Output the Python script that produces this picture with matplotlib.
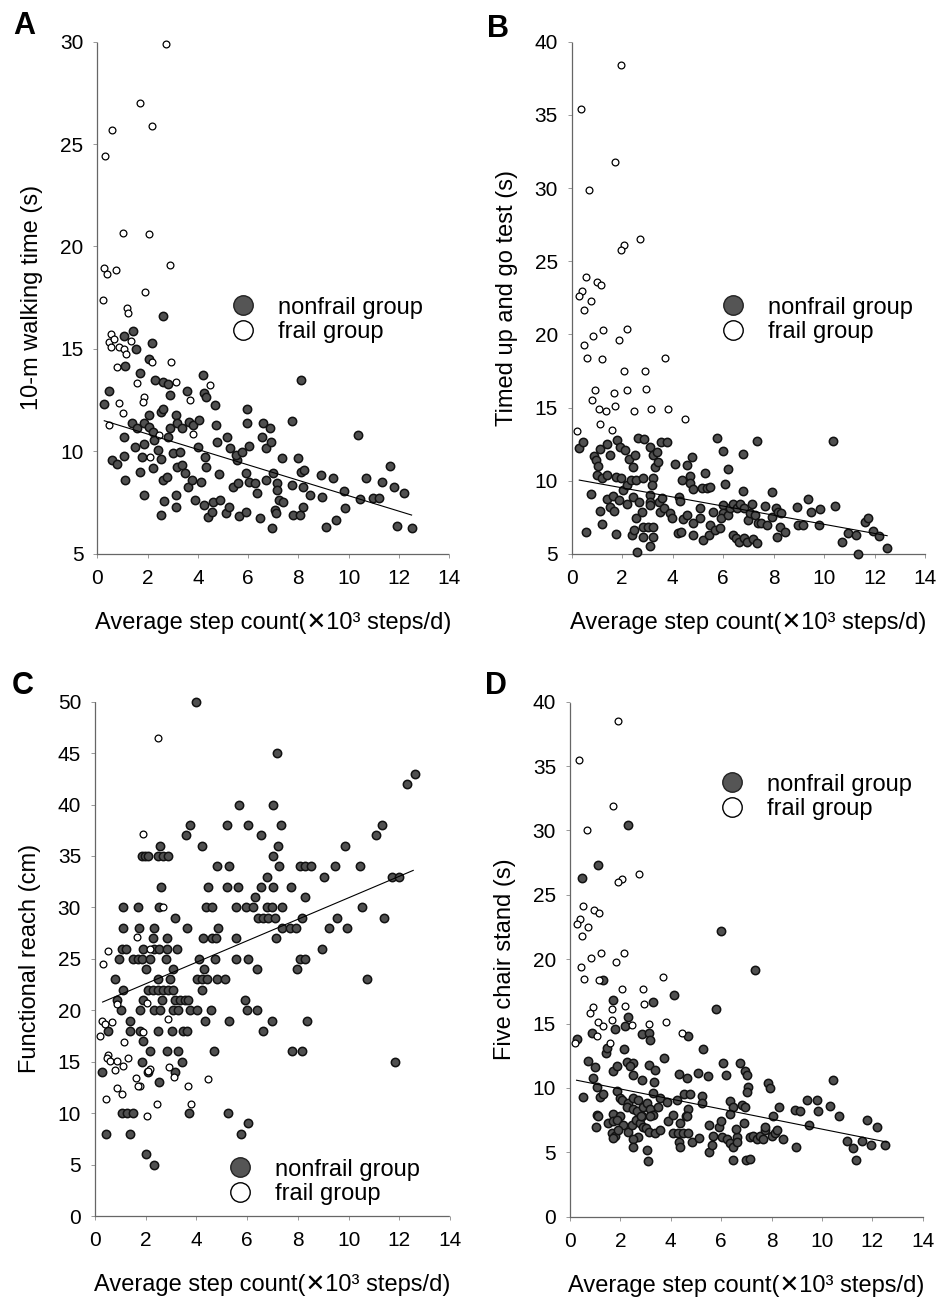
import numpy as np
import matplotlib.pyplot as plt
from matplotlib.lines import Line2D

plt.rcParams['font.family'] = ['Liberation Sans', 'DejaVu Sans']

# ---- data (x = 10^3 steps/d) ----
a_frail = [(2.73, 29.9), (1.70, 27.0), (2.18, 25.9), (0.58, 25.7), (0.31, 24.4), (1.0, 20.66),
           (2.05, 20.6), (2.90, 19.1), (0.27, 18.97), (0.39, 18.66), (0.75, 18.85), (1.90, 17.8),
           (0.22, 17.4), (1.16, 17.0), (1.20, 16.75), (0.55, 15.72), (0.44, 15.36), (0.67, 15.47),
           (0.54, 15.11), (0.84, 15.11), (1.05, 14.98), (1.13, 14.76), (1.32, 15.4), (0.79, 14.14),
           (0.86, 12.35), (1.03, 11.9), (1.57, 13.33), (1.85, 12.67), (1.80, 12.43), (2.19, 14.38),
           (2.92, 14.38), (3.14, 13.4), (3.68, 12.5), (4.5, 13.24), (0.44, 11.3), (2.45, 10.8),
           (3.79, 10.84), (2.09, 9.75)]
a_nonfrail = [(0.27, 12.3), (0.46, 12.97), (0.56, 9.59), (0.76, 9.39), (1.09, 8.6), (1.07, 9.78),
              (1.05, 10.72), (1.08, 14.17), (1.05, 15.63), (1.40, 15.9), (1.53, 15.0), (1.68, 13.85),
              (1.48, 10.24), (1.85, 10.35), (1.86, 7.88), (1.68, 9.02), (1.76, 9.75), (1.36, 11.37),
              (1.58, 11.13), (1.85, 11.4), (2.05, 11.78), (2.04, 11.21), (2.19, 15.28), (2.05, 14.5),
              (2.59, 16.63), (2.31, 13.49), (2.62, 13.4), (2.79, 13.28), (2.53, 11.94), (2.62, 12.06),
              (2.25, 10.56), (2.22, 10.97), (2.42, 10.07), (2.53, 9.62), (2.22, 9.18), (2.62, 8.61),
              (2.75, 8.77), (2.54, 6.9), (2.66, 7.59), (2.82, 10.72), (2.88, 11.13), (2.88, 12.76),
              (3.11, 11.78), (3.15, 11.37), (3.35, 11.13), (3.02, 9.91), (3.15, 9.26), (3.28, 9.99),
              (3.35, 9.34), (3.48, 8.93), (3.11, 7.88), (3.11, 7.31), (3.55, 12.95), (3.65, 11.46),
              (3.81, 11.29), (3.61, 8.28), (3.75, 8.61), (4.04, 11.54), (4.01, 10.24), (4.21, 13.73),
              (4.25, 12.84), (4.34, 12.67), (4.28, 9.75), (4.34, 9.26), (4.14, 8.53), (3.88, 7.63),
              (4.24, 7.39), (4.41, 6.82), (4.57, 7.07), (4.68, 12.27), (4.74, 10.48), (4.72, 11.29),
              (4.82, 8.89), (4.61, 7.55), (4.87, 7.63), (5.14, 10.69), (5.27, 10.15), (5.11, 6.98),
              (5.22, 7.31), (5.40, 8.28), (5.54, 9.59), (5.60, 8.45), (5.51, 9.83), (5.76, 9.99),
              (5.62, 6.85), (5.91, 7.07), (5.96, 12.07), (5.97, 11.37), (6.04, 10.28), (5.93, 8.93),
              (6.04, 8.53), (6.27, 8.45), (6.37, 7.96), (6.47, 6.74), (6.60, 11.37), (6.54, 10.69),
              (6.73, 10.15), (6.73, 8.61), (6.86, 11.13), (6.93, 10.48), (7.00, 8.93), (7.13, 8.45),
              (7.15, 8.12), (7.23, 7.63), (7.07, 7.15), (7.10, 6.98), (6.97, 6.25), (7.33, 9.67),
              (7.39, 7.55), (7.74, 11.5), (7.73, 8.37), (7.79, 6.9), (7.97, 9.67), (8.06, 6.9),
              (8.10, 13.49), (8.12, 9.02), (8.22, 9.1), (8.19, 8.28), (8.19, 7.31), (8.45, 7.88),
              (8.92, 8.85), (8.96, 7.8), (9.12, 6.33), (9.38, 8.69), (9.50, 6.66), (9.82, 8.09),
              (9.85, 7.23), (10.38, 10.8), (10.44, 7.67), (10.70, 8.69), (10.98, 7.72), (11.21, 7.72),
              (11.35, 8.53), (11.64, 9.31), (11.81, 8.28), (11.93, 6.37), (12.20, 7.99), (12.51, 6.27)]
a_fit_x = [0.27, 12.51]
a_fit_y = [11.5, 6.9]

b_frail = [(1.96, 38.4), (0.38, 35.4), (1.72, 31.8), (0.70, 29.9), (2.72, 26.5), (2.07, 26.1),
           (1.96, 25.8), (0.55, 23.9), (1.0, 23.6), (1.16, 23.4), (0.42, 23.0), (0.30, 22.6),
           (0.75, 22.3), (0.50, 21.7), (1.23, 20.3), (2.18, 20.4), (0.86, 19.9), (1.88, 19.6),
           (0.49, 19.3), (0.59, 18.4), (1.20, 18.3), (3.70, 18.4), (2.09, 17.5), (2.89, 17.5),
           (0.91, 16.2), (2.21, 16.2), (2.95, 16.3), (1.68, 16.0), (0.82, 15.5), (1.70, 15.1),
           (1.10, 14.9), (1.36, 14.8), (2.48, 14.8), (3.14, 14.9), (3.82, 14.9), (4.49, 14.2),
           (1.11, 13.9), (1.61, 13.5), (0.22, 13.4)]
b_nonfrail = [(0.30, 12.25), (0.46, 12.66), (0.55, 6.52), (0.77, 9.07), (0.90, 11.68), (0.96, 11.4),
              (0.99, 10.39), (1.04, 11.0), (1.11, 12.16), (1.12, 7.95), (1.22, 7.02), (1.19, 10.16),
              (1.39, 12.5), (1.39, 10.39), (1.39, 8.73), (1.52, 8.23), (1.62, 8.98), (1.68, 7.93),
              (1.74, 6.34), (1.52, 11.73), (1.74, 10.27), (1.81, 12.77), (1.92, 12.32), (1.96, 10.16),
              (2.02, 9.36), (2.11, 12.09), (2.18, 9.7), (2.29, 11.52), (2.34, 10.05), (2.44, 10.95),
              (2.51, 11.75), (2.55, 10.05), (2.42, 8.9), (2.18, 8.45), (1.89, 8.68), (2.58, 5.16),
              (2.38, 6.3), (2.54, 7.43), (2.48, 6.64), (2.64, 12.95), (2.88, 12.89), (2.68, 8.57),
              (2.77, 7.89), (2.81, 10.16), (2.84, 6.86), (2.81, 6.14), (3.10, 9.02), (3.10, 8.57),
              (3.12, 12.32), (3.21, 11.75), (3.24, 10.16), (3.17, 9.7), (3.10, 8.34), (3.04, 6.86),
              (3.21, 6.18), (3.10, 5.55), (3.21, 6.86), (3.30, 10.95), (3.37, 11.98), (3.41, 11.3),
              (3.47, 8.57), (3.57, 8.8), (3.50, 7.89), (3.54, 12.66), (3.76, 12.66), (3.67, 8.11),
              (3.90, 7.77), (3.96, 7.43), (4.10, 11.18), (4.27, 8.91), (4.29, 8.64), (4.23, 6.41),
              (4.33, 6.52), (4.36, 10.05), (4.43, 7.36), (4.56, 11.07), (4.58, 7.66), (4.69, 10.32),
              (4.69, 9.86), (4.76, 11.64), (4.80, 9.43), (4.80, 7.09), (4.80, 6.3), (5.09, 8.11),
              (5.09, 7.43), (5.18, 9.48), (5.28, 10.5), (5.22, 5.95), (5.35, 9.48), (5.48, 9.55),
              (5.48, 6.98), (5.46, 6.3), (5.61, 7.89), (5.68, 6.64), (5.77, 12.95), (5.88, 6.75),
              (5.98, 12.05), (6.08, 9.77), (6.01, 8.34), (5.98, 7.77), (5.91, 7.43), (6.18, 10.84),
              (6.21, 7.66), (6.27, 8.11), (6.38, 8.45), (6.54, 8.11), (6.41, 6.3), (6.51, 6.07),
              (6.61, 5.84), (6.67, 8.41), (6.78, 11.86), (6.80, 9.3), (6.83, 8.11), (6.84, 6.11),
              (6.94, 5.84), (7.0, 7.32), (7.07, 7.77), (7.13, 8.45), (7.17, 6.0), (7.27, 7.66),
              (7.33, 5.73), (7.33, 12.7), (7.37, 7.14), (7.49, 7.14), (7.66, 8.27), (7.73, 6.98),
              (7.93, 9.25), (7.93, 7.55), (8.10, 8.11), (8.16, 7.89), (8.28, 7.77), (8.15, 6.14),
              (8.26, 6.86), (8.45, 6.52), (8.92, 8.23), (8.98, 6.98), (9.18, 6.98), (9.38, 8.75),
              (9.47, 7.89), (9.82, 8.07), (9.81, 6.98), (10.37, 12.7), (10.44, 8.27), (10.70, 5.84),
              (10.96, 6.41), (11.27, 6.3), (11.33, 5.0), (11.62, 7.2), (11.76, 7.43), (11.93, 6.59),
              (12.19, 6.23), (12.48, 5.43)]
b_fit_x = [0.30, 12.5]
b_fit_y = [10.05, 6.25]

c_frail = [(2.50, 46.5), (1.91, 37.1), (2.69, 30.0), (1.67, 27.1), (2.17, 26.0), (0.53, 25.8),
           (0.30, 24.5), (0.26, 19.0), (0.39, 18.7), (0.67, 18.9), (0.20, 17.5), (1.14, 16.9),
           (1.31, 15.4), (0.53, 15.7), (0.49, 15.4), (0.59, 15.1), (0.85, 15.1), (0.79, 14.2),
           (1.09, 14.6), (1.60, 13.4), (1.77, 12.6), (1.68, 12.6), (2.17, 14.3), (2.10, 14.1),
           (2.93, 14.5), (3.12, 13.5), (2.89, 19.2), (1.91, 17.9), (2.04, 20.7), (0.88, 20.6),
           (3.68, 12.6), (3.77, 10.9), (4.47, 13.3), (2.43, 10.9), (2.04, 9.7), (0.85, 12.4),
           (1.07, 11.9), (0.43, 11.4)]
c_nonfrail = [(3.97, 50), (7.16, 45), (12.62, 43), (12.29, 42), (5.69, 40), (7.03, 40), (3.75, 38),
              (6.05, 38), (5.19, 38), (7.32, 38), (11.33, 38), (3.58, 37), (6.53, 37), (11.07, 37),
              (4.21, 36), (2.56, 36), (7.23, 36), (9.86, 36), (1.84, 35), (1.97, 35), (2.10, 35),
              (2.50, 35), (2.69, 35), (2.89, 35), (7.03, 35), (4.82, 34), (5.27, 34), (7.26, 34),
              (8.08, 34), (8.28, 34), (8.51, 34), (9.47, 34), (10.45, 34), (6.77, 33), (9.03, 33),
              (11.70, 33), (12.00, 33), (2.59, 32), (4.47, 32), (5.19, 32), (5.65, 32), (6.53, 32),
              (7.03, 32), (7.73, 32), (6.31, 31), (8.28, 31), (1.12, 30), (1.71, 30), (2.54, 30),
              (4.38, 30), (4.60, 30), (5.56, 30), (5.96, 30), (6.24, 30), (6.77, 30), (6.97, 30),
              (7.36, 30), (10.52, 30), (3.15, 29), (6.44, 29), (6.64, 29), (6.84, 29), (7.10, 29),
              (8.15, 29), (9.53, 29), (11.41, 29), (1.09, 28), (1.75, 28), (2.33, 28), (3.62, 28),
              (4.86, 28), (7.36, 28), (7.69, 28), (7.91, 28), (9.24, 28), (9.93, 28), (2.30, 27),
              (2.83, 27), (4.25, 27), (4.63, 27), (4.77, 27), (5.56, 27), (7.14, 27), (1.05, 26),
              (1.22, 26), (1.88, 26), (2.33, 26), (2.54, 26), (2.83, 26), (3.22, 26), (8.97, 26),
              (0.95, 25), (1.51, 25), (1.68, 25), (1.84, 25), (2.17, 25), (2.79, 25), (4.11, 25),
              (4.73, 25), (5.56, 25), (6.02, 25), (8.08, 25), (8.28, 25), (2.00, 24), (3.09, 24),
              (4.30, 24), (6.38, 24), (7.95, 24), (0.79, 23), (2.47, 23), (2.96, 23), (4.01, 23),
              (4.21, 23), (4.40, 23), (4.80, 23), (5.13, 23), (10.74, 23), (1.09, 22), (2.10, 22),
              (2.30, 22), (2.50, 22), (2.69, 22), (2.89, 22), (3.09, 22), (4.23, 22), (0.88, 21),
              (1.91, 21), (2.63, 21), (3.15, 21), (3.35, 21), (3.55, 21), (3.68, 21), (5.92, 21),
              (1.01, 20), (1.77, 20), (2.33, 20), (2.56, 20), (3.09, 20), (3.29, 20), (3.75, 20),
              (4.04, 20), (4.57, 20), (5.98, 20), (6.38, 20), (1.38, 19), (4.34, 19), (5.30, 19),
              (6.97, 19), (8.35, 19), (0.53, 18), (1.38, 18), (1.77, 18), (2.47, 18), (3.05, 18),
              (3.48, 18), (3.62, 18), (6.64, 18), (1.91, 17), (2.17, 16), (2.83, 16), (3.29, 16),
              (4.69, 16), (7.76, 16), (8.15, 16), (11.83, 15), (1.84, 15), (3.42, 15), (0.26, 14),
              (3.15, 14), (2.10, 14), (2.54, 13), (1.05, 10), (1.25, 10), (1.51, 10), (3.72, 10),
              (5.26, 10), (0.43, 8), (1.38, 8), (5.76, 8), (6.05, 9), (2.00, 6), (2.33, 5)]
c_fit_x = [0.30, 12.55]
c_fit_y = [20.8, 33.6]

d_frail = [(1.92, 38.5), (0.34, 35.5), (1.72, 31.9), (0.69, 30.0), (2.72, 26.6), (2.05, 26.2),
           (1.92, 26.0), (0.53, 24.1), (0.97, 23.8), (1.15, 23.6), (0.40, 23.1), (0.29, 22.7),
           (0.73, 22.5), (0.48, 21.8), (1.22, 20.5), (0.83, 20.1), (2.16, 20.5), (1.83, 19.8),
           (0.44, 19.4), (0.56, 18.5), (1.16, 18.4), (3.68, 18.6), (2.06, 17.7), (2.88, 17.7),
           (2.94, 16.5), (0.90, 16.3), (2.18, 16.4), (1.65, 16.1), (0.79, 15.8), (1.68, 15.3),
           (1.10, 15.1), (1.32, 14.8), (2.47, 14.9), (3.13, 15.0), (3.80, 15.1), (4.46, 14.3),
           (1.08, 14.0), (1.59, 13.5), (0.20, 13.5)]
d_nonfrail = [(2.30, 30.4), (1.10, 27.3), (0.46, 26.3), (6.0, 22.2), (7.34, 19.2), (1.32, 18.4),
              (1.69, 16.8), (5.79, 16.1), (4.13, 17.2), (3.31, 16.7), (2.31, 15.5), (1.79, 14.6),
              (2.18, 14.8), (4.70, 14.0), (0.87, 14.3), (0.26, 13.8), (2.84, 14.2), (3.13, 14.3),
              (3.17, 13.7), (1.42, 12.7), (1.48, 13.1), (2.14, 13.0), (5.29, 13.0), (0.73, 12.1),
              (0.99, 11.6), (1.69, 11.3), (1.85, 11.7), (2.25, 12.0), (2.51, 11.9), (2.38, 11.7),
              (2.51, 11.0), (2.84, 10.6), (3.13, 11.8), (3.37, 11.4), (3.74, 12.3), (3.33, 10.5),
              (4.33, 11.1), (4.63, 10.8), (5.10, 11.2), (5.49, 10.9), (6.08, 11.9), (6.18, 11.0),
              (6.75, 11.9), (6.94, 11.3), (7.01, 11.0), (7.08, 10.1), (7.01, 9.7), (7.84, 10.4),
              (7.94, 10.0), (10.45, 10.6), (0.53, 9.3), (0.93, 10.8), (1.06, 10.1), (1.19, 9.3),
              (1.32, 9.5), (1.85, 9.8), (1.98, 9.2), (2.05, 9.1), (2.31, 8.8), (2.25, 8.5),
              (2.51, 8.4), (2.65, 8.2), (2.51, 9.2), (2.71, 9.1), (2.91, 8.5), (3.04, 8.8),
              (3.17, 8.4), (3.28, 9.6), (3.28, 7.9), (3.51, 8.5), (3.57, 9.2), (3.84, 8.9),
              (4.23, 9.1), (4.54, 9.5), (4.76, 9.5), (4.70, 8.4), (4.60, 7.8), (5.22, 9.4),
              (5.25, 8.8), (6.35, 9.0), (6.48, 8.5), (6.35, 8.0), (6.81, 8.7), (6.94, 8.5),
              (8.31, 8.5), (8.07, 7.8), (8.93, 8.3), (9.13, 8.2), (9.39, 9.1), (9.81, 9.1),
              (9.85, 8.2), (10.34, 8.6), (10.69, 7.8), (1.06, 7.9), (1.12, 7.8), (1.03, 7.0),
              (1.72, 8.0), (1.98, 7.8), (1.52, 7.3), (1.72, 7.4), (1.85, 7.5), (2.12, 7.1),
              (1.65, 6.5), (1.79, 6.3), (1.72, 6.1), (1.92, 6.7), (2.31, 6.6), (2.45, 7.1),
              (2.62, 7.5), (2.78, 7.3), (2.84, 7.8), (2.91, 7.0), (2.71, 6.2), (2.49, 6.0),
              (2.51, 5.4), (2.80, 7.8), (3.17, 7.8), (3.0, 6.9), (3.15, 6.6), (3.37, 6.5),
              (3.57, 6.7), (3.90, 7.4), (4.07, 7.9), (4.10, 6.5), (4.30, 6.5), (4.50, 6.5),
              (4.70, 6.5), (4.37, 7.3), (4.34, 5.8), (4.37, 5.4), (4.63, 7.8), (4.83, 5.8),
              (5.12, 6.1), (5.53, 7.1), (5.53, 5.0), (5.62, 5.6), (5.66, 6.3), (5.92, 7.0),
              (5.98, 7.4), (6.02, 6.2), (6.22, 6.0), (6.35, 5.7), (6.48, 5.4), (6.61, 6.2),
              (6.57, 6.8), (6.61, 5.8), (6.48, 4.4), (6.92, 7.3), (6.98, 4.4), (7.14, 4.5),
              (7.14, 6.2), (7.28, 6.3), (7.41, 6.0), (7.54, 6.3), (7.67, 6.0), (7.74, 6.7),
              (7.74, 7.0), (8.0, 6.3), (8.14, 6.5), (8.2, 6.7), (8.47, 6.0), (8.99, 5.4),
              (9.5, 7.1), (11.0, 5.9), (11.24, 5.3), (11.35, 4.4), (11.61, 5.9), (11.8, 7.5),
              (11.93, 5.6), (12.2, 7.0), (12.5, 5.6), (3.07, 5.2), (3.08, 4.3)]
d_fit_x = [0.26, 12.57]
d_fit_y = [10.6, 5.8]

x_label = 'Average step count(\u2715' + '10\u00b3 steps/d)'

W, H = 937, 1303
fig = plt.figure(figsize=(W / 100, H / 100), dpi=100)

# panel: letter, ylabel, data, y range, axes rect (px: left, right, top, bottom), legend spot, letter spot (px)
panels = [
    ('A', '10-m walking time (s)', a_nonfrail, a_frail, a_fit_x, a_fit_y, (5, 30),
     (97.5, 449, 41.5, 554), (228, 320), (13, 11)),
    ('B', 'Timed up and go test (s)', b_nonfrail, b_frail, b_fit_x, b_fit_y, (5, 40),
     (571.7, 925, 41.7, 554), (718, 320), (487, 14)),
    ('C', 'Functional reach (cm)', c_nonfrail, c_frail, c_fit_x, c_fit_y, (0, 50),
     (95, 450, 701.7, 1216), (225, 1182), (12, 671)),
    ('D', 'Five chair stand (s)', d_nonfrail, d_frail, d_fit_x, d_fit_y, (0, 40),
     (570, 922.7, 701.7, 1216.7), (717, 797), (485, 671)),
]

for letter, ylab, nf, fr, fx, fy, ylim, (l, r, t, b), (lgx, lgy), (tx, ty) in panels:
    ax = fig.add_axes([l / W, 1 - b / H, (r - l) / W, (b - t) / H])
    nf = np.array(nf)
    fr = np.array(fr)
    ax.scatter(nf[:, 0], nf[:, 1], s=36, facecolor='#505050', edgecolor='#111111',
               linewidth=1.1, zorder=3, clip_on=False)
    ax.scatter(fr[:, 0], fr[:, 1], s=24, facecolor='white', edgecolor='black',
               linewidth=0.9, zorder=3, clip_on=False)
    ax.plot(fx, fy, color='black', lw=0.8, zorder=4)

    ax.set_xlim(0, 14)
    ax.set_ylim(*ylim)
    ax.set_xticks(range(0, 15, 2))
    ax.set_yticks(range(ylim[0], ylim[1] + 1, 5))
    for side in ('top', 'right'):
        ax.spines[side].set_visible(False)
    for side in ('left', 'bottom'):
        ax.spines[side].set_linestyle((0, (1, 1)))
        ax.spines[side].set_color('#666666')
        ax.spines[side].set_linewidth(0.9)
    ax.tick_params(direction='out', length=3, width=0.6, color='#888888', labelsize=15)
    ax.tick_params(axis='x', pad=8)
    ax.tick_params(axis='y', pad=7)

    ax.set_ylabel(ylab, fontsize=17)
    ax.yaxis.set_label_coords(-54 / (r - l), 0.5)
    ax.set_xlabel(x_label, fontsize=17)
    ax.xaxis.set_label_coords(0.5, -58 / (b - t))

    handles = [
        Line2D([], [], ls='none', marker='o', markersize=14, markerfacecolor='#555555',
               markeredgecolor='#222222', markeredgewidth=1.0),
        Line2D([], [], ls='none', marker='o', markersize=14, markerfacecolor='white',
               markeredgecolor='black', markeredgewidth=1.0),
    ]
    ax.legend(handles, ['nonfrail group', 'frail group'], loc='center left',
              bbox_to_anchor=(lgx / W, 1 - lgy / H), bbox_transform=fig.transFigure,
              frameon=False, fontsize=17, borderpad=0, borderaxespad=0,
              handlelength=1.25, handletextpad=0.85, labelspacing=0.12)

    fig.text(tx / W, 1 - ty / H, letter, fontsize=22, fontweight='bold', ha='left', va='top')

fig.savefig('out.png', dpi=100)
